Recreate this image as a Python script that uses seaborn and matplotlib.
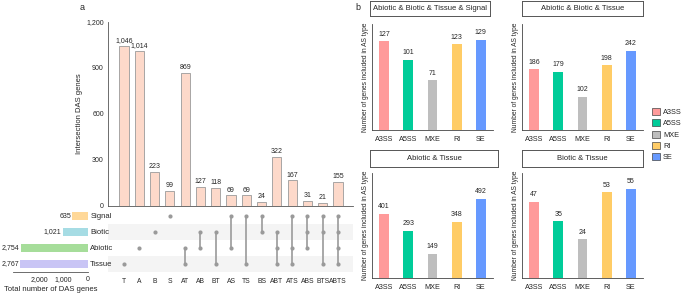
import numpy as np
import pandas as pd
import matplotlib
matplotlib.use("Agg")
import matplotlib.pyplot as plt
from matplotlib.patches import Patch
import seaborn as sns

# ---- data ----
intersections = ["T", "A", "B", "S", "AT", "AB", "BT", "AS", "TS", "BS",
                 "ABT", "ATS", "ABS", "BTS", "ABTS"]
intersection_counts = [1046, 1014, 223, 99, 869, 127, 118, 69, 69, 24,
                       322, 167, 31, 21, 155]
set_names = ["Tissue", "Abiotic", "Biotic", "Signal"]
set_letters = ["T", "A", "B", "S"]
set_sizes = [2767, 2754, 1021, 635]
set_colors = ["#C9C5F5", "#A6DD9A", "#A6DCE4", "#FFD898"]

as_types = ["A3SS", "A5SS", "MXE", "RI", "SE"]
as_colors = ["#FF9A9A", "#00CC99", "#BEBEBE", "#FFCC66", "#6699FF"]
panel_titles = ["Abiotic & Biotic & Tissue & Signal", "Abiotic & Biotic & Tissue",
                "Abiotic & Tissue", "Biotic & Tissue"]
panel_values = [[127, 101, 71, 123, 129],
                [186, 179, 102, 198, 242],
                [401, 293, 149, 348, 492],
                [47, 35, 24, 53, 55]]
panel_ylim = [152, 325, 654, 65]

sns.set_style("white")
plt.rcParams["font.family"] = ["Liberation Sans", "DejaVu Sans"]
plt.rcParams["axes.linewidth"] = 0.6

W, H = 685, 295
fig = plt.figure(figsize=(W / 100, H / 100), dpi=100)


def px(l, t, r, b):
    return [l / W, 1 - b / H, (r - l) / W, (b - t) / H]


GRAY = "#9A9A9A"

# ---- upset: intersection bars ----
ax_bar = fig.add_axes(px(108, 22, 353, 206))
df_int = pd.DataFrame({"set": intersections, "count": intersection_counts})
sns.barplot(data=df_int, x="set", y="count", color="#FDD9CA", edgecolor=GRAY,
            linewidth=0.6, width=0.6, saturation=1, ax=ax_bar)
for i, v in enumerate(intersection_counts):
    ax_bar.text(i, v + 12, f"{v:,}", ha="center", va="bottom", fontsize=5)
ax_bar.set_xlim(-1.05, 14.98)
ax_bar.set_ylim(0, 1200)
ax_bar.set_yticks([0, 300, 600, 900, 1200])
ax_bar.set_yticklabels([f"{t:,}" for t in [0, 300, 600, 900, 1200]], fontsize=5)
ax_bar.tick_params(axis="y", length=2, width=0.5, pad=1)
ax_bar.set_xticks([])
ax_bar.set_xlabel("")
ax_bar.set_ylabel("Intersection DAS genes", fontsize=5.5, labelpad=2)
sns.despine(ax=ax_bar, top=True, right=True)
for s in ["left", "bottom"]:
    ax_bar.spines[s].set_color("#555555")

# ---- upset: matrix ----
ax_mat = fig.add_axes(px(108, 208, 353, 272))
for r in [0, 2]:
    ax_mat.axhspan(r - 0.5, r + 0.5, color="#F4F4F4", lw=0, zorder=0)
for i, name in enumerate(intersections):
    rows = [k for k, letter in enumerate(set_letters) if letter in name]
    if len(rows) > 1:
        ax_mat.plot([i, i], [min(rows), max(rows)], color=GRAY, lw=1.2, zorder=1)
    ax_mat.scatter([i] * len(rows), rows, s=9, color=GRAY, zorder=2, lw=0)
ax_mat.set_xlim(-1.05, 14.98)
ax_mat.set_ylim(-0.5, 3.5)
ax_mat.set_xticks(range(len(intersections)))
ax_mat.set_xticklabels(intersections, fontsize=4.9)
ax_mat.tick_params(axis="x", length=0, pad=4)
ax_mat.set_yticks([])
for s in ax_mat.spines.values():
    s.set_visible(False)

# ---- upset: set sizes ----
ax_set = fig.add_axes(px(13, 208, 88, 272))
for k, (sz, c) in enumerate(zip(set_sizes, set_colors)):
    ax_set.barh(k, sz, height=0.45, color=c, lw=0)
    ax_set.text(sz + 60, k, f"{sz:,}", ha="right", va="center", fontsize=5)
    ax_set.text(1.03, k, set_names[k], transform=ax_set.get_yaxis_transform(),
                ha="left", va="center", fontsize=5.5)
ax_set.set_ylim(-0.5, 3.5)
ax_set.set_xlim(3070, 0)
ax_set.set_xticks([2000, 1000, 0])
ax_set.set_xticklabels(["2,000", "1,000", "0"], fontsize=5)
ax_set.tick_params(axis="x", length=2, width=0.5, pad=1)
ax_set.set_yticks([])
ax_set.set_xlabel("Total number of DAS genes", fontsize=5.5, labelpad=2)
for s in ["top", "right", "left"]:
    ax_set.spines[s].set_visible(False)
ax_set.spines["bottom"].set_color("#555555")

fig.text(82 / W, 1 - 8 / H, "a", fontsize=6.5, ha="center", va="center")
fig.text(358 / W, 1 - 8 / H, "b", fontsize=6.5, ha="center", va="center")

# ---- b: AS type panels ----
axes_px = [(372, 24, 493, 130), (522, 24, 643, 130),
           (372, 173, 493, 278), (522, 173, 643, 278)]
strip_px = [(370, 1, 490, 16), (522, 1, 643, 16),
            (370, 150, 498, 167), (522, 150, 643, 167)]
for k in range(4):
    ax = fig.add_axes(px(*axes_px[k]))
    df = pd.DataFrame({"type": as_types, "n": panel_values[k]})
    sns.barplot(data=df, x="type", y="n", hue="type", palette=as_colors,
                width=0.4, saturation=1, legend=False, ax=ax, lw=0)
    ylim = panel_ylim[k]
    for i, v in enumerate(panel_values[k]):
        ax.text(i, v + ylim * 0.035, str(v), ha="center", va="bottom", fontsize=5)
    ax.set_xlim(-0.5, 4.5)
    ax.set_ylim(0, ylim)
    ax.set_yticks([])
    ax.set_xlabel("")
    ax.set_ylabel("Number of genes included in AS type", fontsize=4.8, labelpad=2)
    ax.tick_params(axis="x", labelsize=5.2, length=1.5, width=0.5, pad=3)
    sns.despine(ax=ax, top=True, right=True)
    for s in ["left", "bottom"]:
        ax.spines[s].set_color("#444444")

    sx = fig.add_axes(px(*strip_px[k]))
    sx.set_xticks([])
    sx.set_yticks([])
    for s in sx.spines.values():
        s.set_color("#555555")
        s.set_linewidth(0.7)
    sx.text(0.5, 0.5, panel_titles[k], ha="center", va="center", fontsize=5.5,
            transform=sx.transAxes)

handles = [Patch(facecolor=c, edgecolor="#444444", lw=0.5, label=t)
           for t, c in zip(as_types, as_colors)]
fig.legend(handles=handles, loc="upper left", bbox_to_anchor=(652 / W, 1 - 108 / H),
           frameon=False, fontsize=5.3, handlelength=1.1, handleheight=1.1,
           handletextpad=0.4, labelspacing=0.45, borderaxespad=0, borderpad=0)

fig.savefig("out.png", dpi=100)
